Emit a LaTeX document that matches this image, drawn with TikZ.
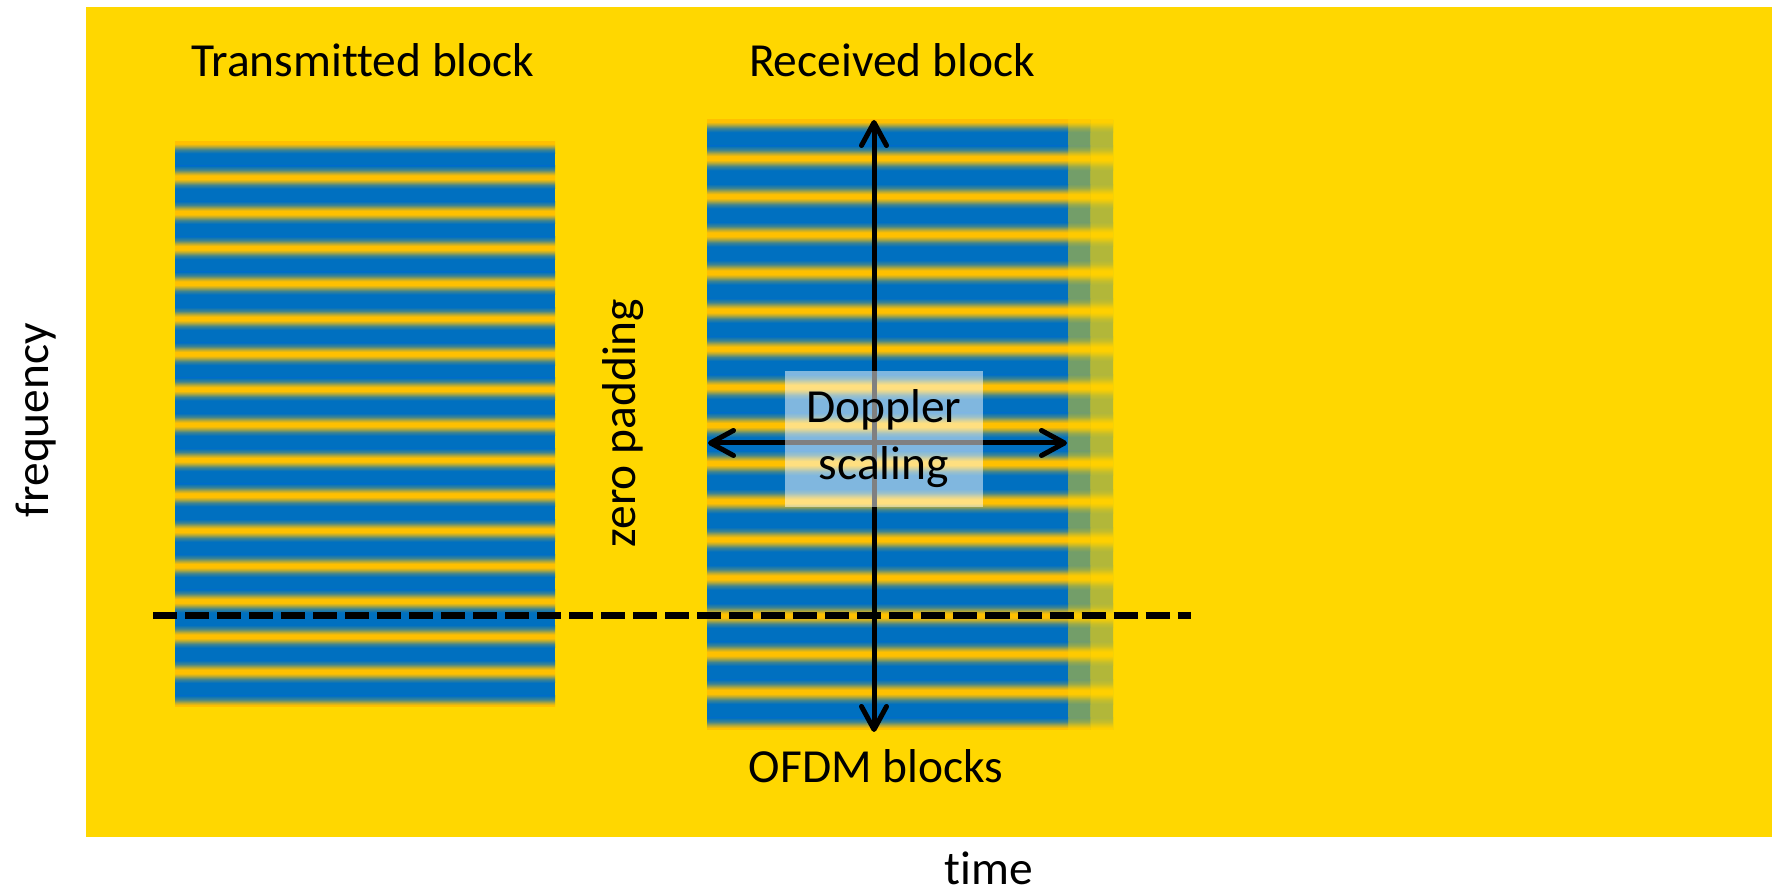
\documentclass[tikz,border=0pt]{standalone}
\usepackage{fontspec}
\setmainfont{Carlito}[Ligatures={NoCommon,NoContextual}]
\usetikzlibrary{arrows.meta}
\definecolor{bgyel}{HTML}{FFD700}
\definecolor{stblue}{HTML}{0070C0}
\definecolor{stgold}{HTML}{FFC000}
\pgfdeclareverticalshading{goldband}{100bp}{color(0bp)=(stblue); color(25bp)=(stblue); color(33bp)=(stblue!75!stgold); color(41bp)=(stblue!25!stgold); color(46bp)=(stgold); color(54bp)=(stgold); color(59bp)=(stblue!25!stgold); color(67bp)=(stblue!75!stgold); color(75bp)=(stblue); color(100bp)=(stblue)}
\newcommand{\stripeblock}[5]{%
  \pgfmathsetmacro{\sbP}{(#4-#3)/#5}%
  \pgfmathsetmacro{\sbR}{0.32*\sbP}%
  \begin{scope}
  \clip (#1,#3) rectangle (#2,#4);
  \fill[stblue] (#1,#3) rectangle (#2,#4);
  \foreach \k in {0,...,#5}{
    \shade[shading=goldband]
      (#1,{#3+\k*\sbP-\sbR}) rectangle (#2,{#3+\k*\sbP+\sbR});
  }%
  \end{scope}
}
\tikzset{
  lbl/.style={font=\fontsize{13.5}{16.2}\selectfont, text=black, inner sep=0pt},
  dimarrow/.style={line width=0.5mm, {Straight Barb[length=2.3mm,width=2.5mm,round]}-{Straight Barb[length=2.3mm,width=2.5mm,round]}},
  zeroline/.style={line width=0.7mm, dash pattern=on 2.4mm off 0.8mm},
  glassbox/.style={fill=white, fill opacity=0.5, text opacity=1, inner sep=0pt,
    minimum width=1.98cm, minimum height=1.36cm, align=center,
    font=\fontsize{13.5}{16.2}\selectfont}
}
\begin{document}
\begin{tikzpicture}[x=0.01cm,y=-0.01cm]
\useasboundingbox (0,0) rectangle (1772,895);
\fill[white] (0,0) rectangle (1772,895);
\fill[bgyel] (86,7) rectangle (1772,837);

% transmitted block
\stripeblock{175}{555}{142}{707}{16}
% received block
\stripeblock{707}{1068}{120}{730}{16}
\begin{scope}[transparency group, opacity=0.55]
\stripeblock{1068}{1090}{120}{730}{16}
\end{scope}
\begin{scope}[transparency group, opacity=0.3]
\stripeblock{1090}{1113}{120}{730}{16}
\end{scope}

% labels
\node[lbl, anchor=base] (tx) at (363,77) {Transmitted block};
\node[lbl, anchor=base] (rx) at (892,77) {Received block};
\node[lbl, anchor=base, rotate=90] (freq) at (48,420) {frequency};
\node[lbl, anchor=base, rotate=90] (zp) at (635,423) {zero padding};
\node[lbl, anchor=base] (ofdm) at (876,783) {OFDM blocks};
\node[lbl, anchor=base] (time) at (989,885) {time};

% dashed line
\coordinate (dashL) at (153,616);
\coordinate (dashR) at (1191,616);
\draw[zeroline] (dashL) -- (dashR);

% arrows
\coordinate (vtop) at (874,120);
\coordinate (vbot) at (874,732);
\coordinate (hleft) at (708,443);
\coordinate (hright) at (1067,443);
\draw[dimarrow] (vtop) -- (vbot);
\draw[dimarrow] (hleft) -- (hright);

\node[glassbox] (dop) at (884,439) {Doppler\\scaling};
\end{tikzpicture}
\end{document}
